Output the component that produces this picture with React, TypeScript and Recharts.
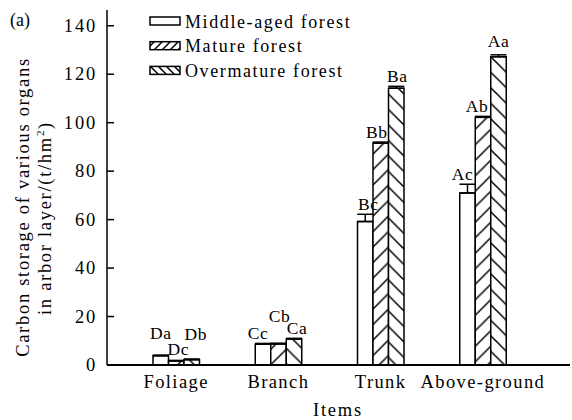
import { BarChart, Bar, XAxis, YAxis, ErrorBar, LabelList, Legend } from 'recharts';

const categories = ['Foliage', 'Branch', 'Trunk', 'Above-ground'];
const middleAged = [3.8, 8.6, 59.2, 71.0];
const mature = [1.7, 8.7, 91.5, 102.2];
const overmature = [2.2, 10.7, 114.2, 127.2];
const middleAgedErr = [0.3, 0.3, 3.0, 3.6];
const matureErr = [0.2, 0.3, 0.5, 0.4];
const overmatureErr = [0.3, 0.3, 0.8, 0.8];
const middleAgedSig = ['Da', 'Cc', 'Bc', 'Ac'];
const matureSig = ['Dc', 'Cb', 'Bb', 'Ab'];
const overmatureSig = ['Db', 'Ca', 'Ba', 'Aa'];
const yTicks = [0, 20, 40, 60, 80, 100, 120, 140];

const FONT = 'Liberation Serif, Times New Roman, Times, serif';

const data = categories.map((item, i) => ({
  item,
  middle: middleAged[i],
  mature: mature[i],
  over: overmature[i],
  middleErr: [0, middleAgedErr[i]],
  matureErr: [0, matureErr[i]],
  overErr: [0, overmatureErr[i]],
  middleSig: middleAgedSig[i],
  matureSig: matureSig[i],
  overSig: overmatureSig[i],
}));

// letter -> [value, error] so the label can sit on top of its error bar
const sigInfo: Record<string, [number, number]> = {};
categories.forEach((_, i) => {
  sigInfo[middleAgedSig[i]] = [middleAged[i], middleAgedErr[i]];
  sigInfo[matureSig[i]] = [mature[i], matureErr[i]];
  sigInfo[overmatureSig[i]] = [overmature[i], overmatureErr[i]];
});

// hand nudges (dx, extra lift) so crowded letters don't collide
const sigNudge: Record<string, [number, number]> = {
  Da: [0, 12], Dc: [2, 1], Db: [4, 15],
  Cc: [-5, 0], Cb: [1, 17], Ca: [3, 0],
  Bc: [3, 0], Bb: [-4, 0], Ba: [1, 0],
  Ac: [-5, 0], Ab: [-6, 0], Aa: [0, 4],
};

const SigLabel = (props: any) => {
  const vb = props.viewBox || props;
  const { x, y, width, height } = vb;
  const letter = String(props.value);
  const info = sigInfo[letter];
  if (!info) return null;
  const [val, err] = info;
  const scale = val ? height / val : 0;
  const [dx, lift] = sigNudge[letter] || [0, 0];
  return (
    <text
      x={x + width / 2 + dx}
      y={y - err * scale - 4 - lift}
      textAnchor="middle"
      style={{ fontFamily: FONT, fontSize: 17.5, letterSpacing: 0.6 }}
      fill="#000"
    >
      {letter}
    </text>
  );
};

const YTick = (props: any) => {
  const { x, y, payload } = props;
  return (
    <g>
      <line x1={x + 10} x2={x + 17} y1={y} y2={y} stroke="#000" strokeWidth={1.5} />
      <text x={x} y={y} dy={6} textAnchor="end" style={{ fontFamily: FONT, fontSize: 18.5, letterSpacing: 1.8 }} fill="#000">
        {payload.value}
      </text>
    </g>
  );
};

const legendOrder = ['middle', 'mature', 'over'];
const legendFill: Record<string, string> = {
  middle: '#fff',
  mature: 'url(#hatchMatureSmall)',
  over: 'url(#hatchOverSmall)',
};

const LegendBox = (props: any) => {
  const payload = [...(props.payload || [])].sort(
    (a: any, b: any) => legendOrder.indexOf(a.dataKey) - legendOrder.indexOf(b.dataKey)
  );
  return (
    <svg width={260} height={80} style={{ display: 'block' }}>
      {payload.map((p: any, i: number) => (
        <g key={p.value}>
          <rect x={2} y={9 + i * 24.7} width={30} height={8} fill={legendFill[p.dataKey]} stroke="#000" strokeWidth={1.5} />
          <text x={37} y={19.5 + i * 24.7} style={{ fontFamily: FONT, fontSize: 18, letterSpacing: 1.6 }} fill="#000">
            {p.value}
          </text>
        </g>
      ))}
    </svg>
  );
};

export default function App() {
  return (
    <div style={{ position: 'absolute', left: 0, top: 0, width: 572, height: 420, background: '#fff', fontFamily: FONT }}>
      <svg width={0} height={0} style={{ position: 'absolute' }}>
        <defs>
          <pattern id="hatchMature" patternUnits="userSpaceOnUse" width={15.5} height={15.5}>
            <rect width={15.5} height={15.5} fill="#fff" />
            <path d="M0,15.5 L15.5,0 M-2,2 L2,-2 M13.5,17.5 L17.5,13.5" stroke="#000" strokeWidth={1.5} />
          </pattern>
          <pattern id="hatchOver" patternUnits="userSpaceOnUse" width={15.5} height={15.5}>
            <rect width={15.5} height={15.5} fill="#fff" />
            <path d="M0,0 L15.5,15.5 M-2,13.5 L2,17.5 M13.5,-2 L17.5,2" stroke="#000" strokeWidth={1.5} />
          </pattern>
          <pattern id="hatchMatureSmall" patternUnits="userSpaceOnUse" width={8} height={8}>
            <rect width={8} height={8} fill="#fff" />
            <path d="M0,8 L8,0 M-2,2 L2,-2 M6,10 L10,6" stroke="#000" strokeWidth={1.5} />
          </pattern>
          <pattern id="hatchOverSmall" patternUnits="userSpaceOnUse" width={8} height={8}>
            <rect width={8} height={8} fill="#fff" />
            <path d="M0,0 L8,8 M-2,6 L2,10 M6,-2 L10,2" stroke="#000" strokeWidth={1.5} />
          </pattern>
        </defs>
      </svg>

      <BarChart
        width={572}
        height={420}
        data={data}
        margin={{ top: 10, right: 2, bottom: 25, left: 57 }}
        barGap={0}
        barSize={15.5}
      >
        <XAxis
          dataKey="item"
          axisLine={{ stroke: '#000', strokeWidth: 2 }}
          tickLine={false}
          tickSize={0}
          tickMargin={10}
          interval={0}
          height={30}
          padding={{ left: 18, right: 36 }}
          tick={{ fill: '#000', fontSize: 18.5, fontFamily: FONT, letterSpacing: 1.4 }}
        />
        <YAxis
          domain={[0, 146.5]}
          ticks={yTicks}
          allowDataOverflow
          width={50}
          axisLine={{ stroke: '#000', strokeWidth: 1.5 }}
          tickLine={false}
          tickSize={0}
          tickMargin={10}
          tick={<YTick />}
        />
        <Legend
          layout="horizontal"
          verticalAlign="middle"
          align="center"
          content={<LegendBox />}
          wrapperStyle={{ position: 'absolute', top: 8, left: 148, width: 260, height: 80 }}
        />
        <Bar dataKey="middle" name="Middle-aged forest" fill="#fff" stroke="#000" strokeWidth={1.5} isAnimationActive={false}>
          <ErrorBar dataKey="middleErr" width={8} stroke="#000" strokeWidth={1.5} direction="y" />
          <LabelList dataKey="middleSig" content={<SigLabel />} />
        </Bar>
        <Bar dataKey="mature" name="Mature forest" fill="url(#hatchMature)" stroke="#000" strokeWidth={1.5} isAnimationActive={false}>
          <ErrorBar dataKey="matureErr" width={8} stroke="#000" strokeWidth={1.5} direction="y" />
          <LabelList dataKey="matureSig" content={<SigLabel />} />
        </Bar>
        <Bar dataKey="over" name="Overmature forest" fill="url(#hatchOver)" stroke="#000" strokeWidth={1.5} isAnimationActive={false}>
          <ErrorBar dataKey="overErr" width={8} stroke="#000" strokeWidth={1.5} direction="y" />
          <LabelList dataKey="overSig" content={<SigLabel />} />
        </Bar>
      </BarChart>

      <svg width={572} height={420} style={{ position: 'absolute', left: 0, top: 0, pointerEvents: 'none' }}>
        <text x={10} y={26} style={{ fontFamily: FONT, fontSize: 18 }} fill="#000">(a)</text>
        <text
          transform="translate(29,207) rotate(-90)"
          textAnchor="middle"
          style={{ fontFamily: FONT, fontSize: 18.5, letterSpacing: 1.7 }}
          fill="#000"
        >
          Carbon storage of various organs
        </text>
        <text
          transform="translate(51,218) rotate(-90)"
          textAnchor="middle"
          style={{ fontFamily: FONT, fontSize: 18.5, letterSpacing: 1.7 }}
          fill="#000"
        >
          in arbor layer/(t/hm
          <tspan dy={-7} style={{ fontSize: 11 }}>2</tspan>
          <tspan dy={7}>)</tspan>
        </text>
        <text x={338} y={416} textAnchor="middle" style={{ fontFamily: FONT, fontSize: 18.5, letterSpacing: 1.8 }} fill="#000">
          Items
        </text>
      </svg>
    </div>
  );
}
